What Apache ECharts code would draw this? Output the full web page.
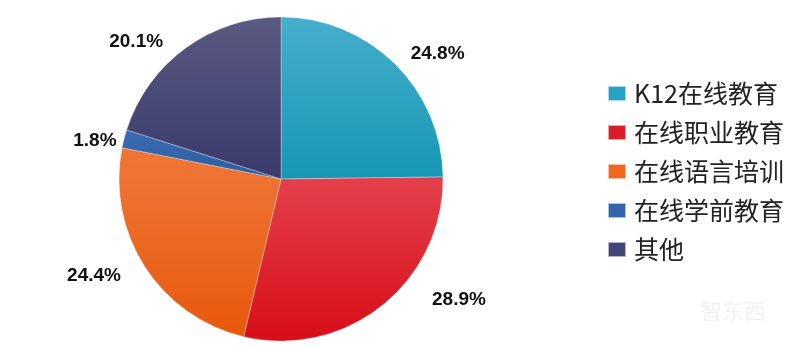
<!DOCTYPE html>
<html><head><meta charset="utf-8">
<script src="https://cdn.jsdelivr.net/npm/echarts@6/dist/echarts.min.js"></script>
<style>html,body{margin:0;padding:0;background:#fff}#c{width:800px;height:347px}</style>
</head><body><div id="c"></div>
<script>
const categories = ['K12在线教育','在线职业教育','在线语言培训','在线学前教育','其他'];
const values = [24.8, 28.9, 24.4, 1.8, 20.1];
const topColors = ['#45aecb','#e4414c','#f07738','#3d6cb0','#5a5a82'];
const bottomColors = ['#1797b6','#d80d18','#e8580c','#2c5ca0','#393a6c'];
const legendColors = ['#27a2c2','#dc1c26','#f06620','#3564aa','#44457a'];
// small nudges of the value labels away from their default outside spot
const labelNudge = [[1,0],[36,-17],[-7,2],[11,6],[-9,5]];

const chart = echarts.init(document.getElementById('c'));
chart.setOption({
  animation:false,
  legend:{
    orient:'vertical', left:602, top:76, itemGap:14, itemWidth:18, itemHeight:15,
    icon:'rect',
    textStyle:{fontSize:25, lineHeight:25, color:'#222', fontFamily:'Noto Sans CJK SC', padding:[0,0,0,3]},
    data: categories.map((c,i)=>({name:c, itemStyle:{color:legendColors[i]}}))
  },
  series:[{
    type:'pie', center:[281,179], radius:162, startAngle:90, clockwise:true,
    itemStyle:{borderColor:'rgba(255,255,255,0.6)', borderWidth:0.5},
    label:{show:true, position:'outside', formatter:p=>p.value.toFixed(1)+'%',
      fontSize:19, fontWeight:'bold', color:'#111', fontFamily:'Liberation Sans'},
    labelLine:{show:false, length:14, length2:0},
    labelLayout: p => ({dx:labelNudge[p.dataIndex][0], dy:labelNudge[p.dataIndex][1]}),
    emphasis:{disabled:true},
    data: categories.map((c,i)=>({name:c, value:values[i],
      itemStyle:{color:new echarts.graphic.LinearGradient(0,0,0,1,[{offset:0,color:topColors[i]},{offset:1,color:bottomColors[i]}])}}))
  }],
  graphic:[{type:'text', left:700, top:300, style:{text:'智东西', fontSize:22, fill:'#f2f2f2', fontFamily:'Noto Sans CJK SC'}}]
});
</script></body></html>
